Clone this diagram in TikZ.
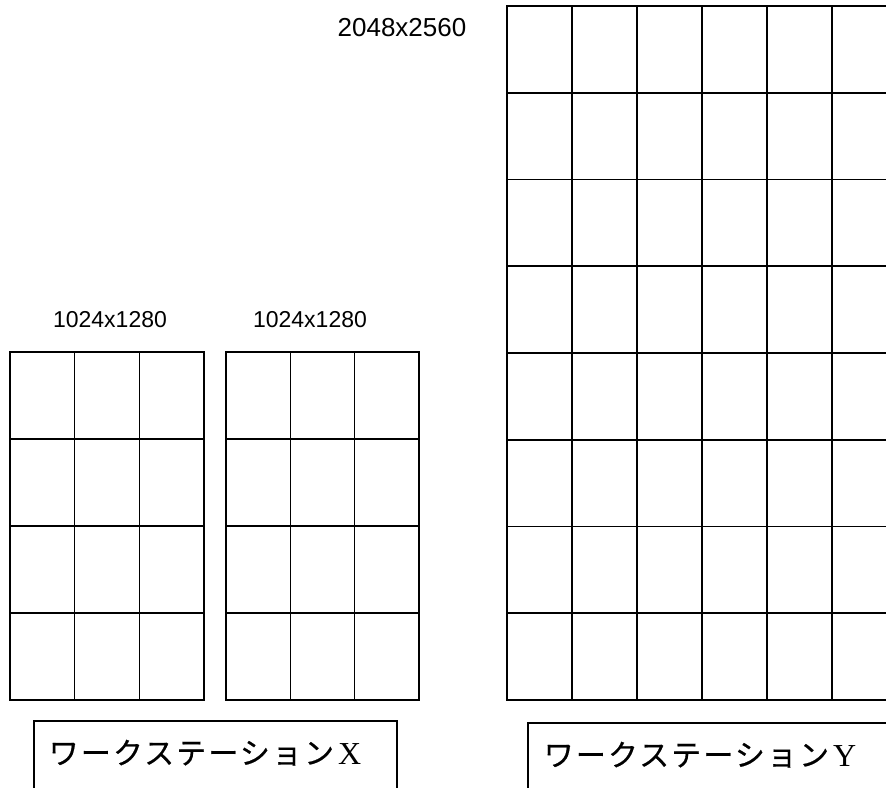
\documentclass[tikz,border=0pt]{standalone}
\usepackage{fontspec}
\setmainfont{Liberation Serif}
\newfontfamily\lsans{Liberation Sans}
\newfontfamily\jp[LetterSpace=7,FakeBold=0.5]{Noto Sans CJK JP}
\begin{document}
\begin{tikzpicture}[x=1pt,y=-1pt,line width=1.6pt,
  sizelabel/.style={font=\lsans\fontsize{23}{26}\selectfont,anchor=base,inner sep=0pt},
  wslabel/.style={anchor=base west,inner sep=0pt},
  gridline/.style={draw=black,line width=1.6pt,line cap=rect}]
\useasboundingbox (0,0) rectangle (886,787);
\clip (0,0) rectangle (886,787);
% workstation X, left screen
\draw[gridline] (10,352) rectangle (204,700);
\foreach \i in {1,2} \draw[gridline] ({10+\i*194/3},352) -- ({10+\i*194/3},700);
\foreach \j in {1,2,3} \draw[gridline] (10,{352+\j*87}) -- (204,{352+\j*87});
% workstation X, right screen
\draw[gridline] (226,352) rectangle (419,700);
\foreach \i in {1,2} \draw[gridline] ({226+\i*193/3},352) -- ({226+\i*193/3},700);
\foreach \j in {1,2,3} \draw[gridline] (226,{352+\j*87}) -- (419,{352+\j*87});
% workstation Y screen (cut off at right)
\foreach \i in {0,...,6} \draw[gridline] ({507+\i*65},6) -- ({507+\i*65},700);
\foreach \j in {0,...,8} \draw[gridline] (507,{6+\j*86.75}) -- (900,{6+\j*86.75});
% size labels
\node[sizelabel] (sx1) at (110,327) {1024x1280};
\node[sizelabel] (sx2) at (310,327) {1024x1280};
\node[sizelabel,font=\lsans\fontsize{26}{30}\selectfont] (sy) at (402,36) {2048x2560};
% label boxes
\draw[line width=1.4pt] (34,790) -- (34,721) -- (397,721) -- (397,790);
\draw[line width=1.4pt] (528,790) -- (528,723) -- (900,723);
\node[wslabel] (wx) at (48,764) {\jp\fontsize{30}{34}\selectfont ワークステーション\hspace{4pt}\rmfamily\fontsize{32}{36}\selectfont X};
\node[wslabel] (wy) at (543,766) {\jp\fontsize{30}{34}\selectfont ワークステーション\hspace{4pt}\rmfamily\fontsize{32}{36}\selectfont Y};
\end{tikzpicture}
\end{document}
